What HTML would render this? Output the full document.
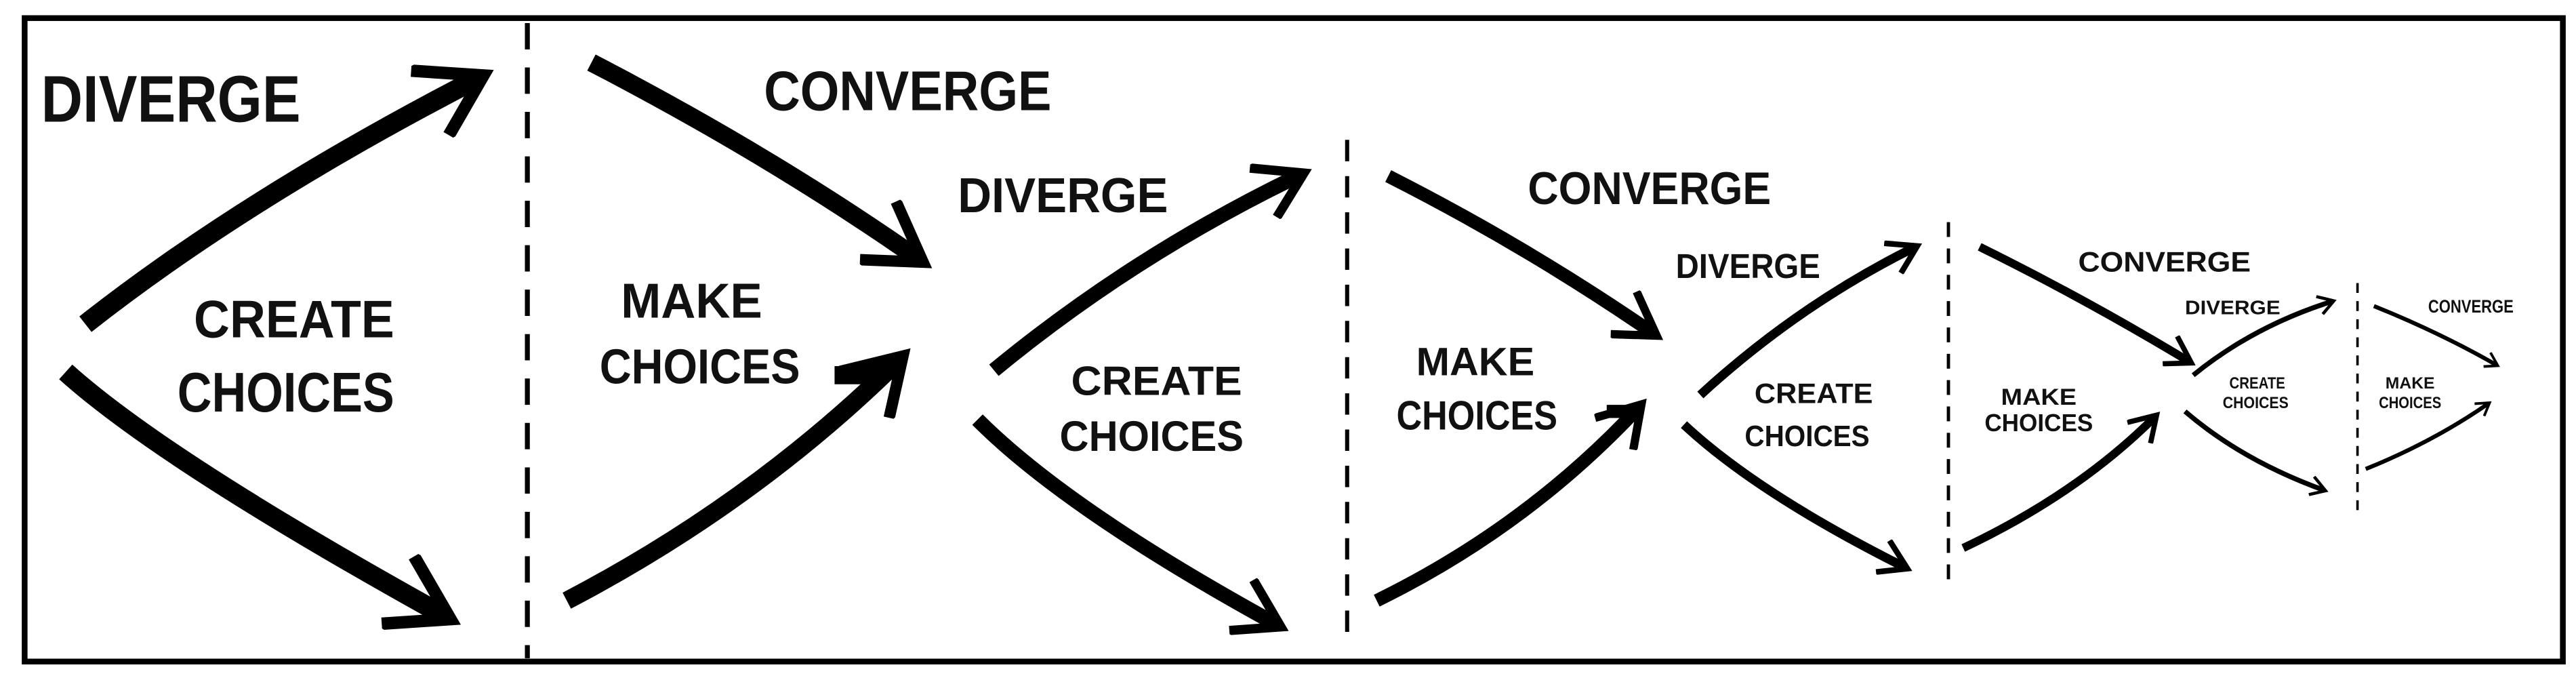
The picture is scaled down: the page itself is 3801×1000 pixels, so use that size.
<!DOCTYPE html>
<html><head><meta charset="utf-8"><style>
html,body{margin:0;padding:0;background:#fff;}
svg{display:block;}
text{font-family:"Liberation Sans",sans-serif;font-weight:bold;fill:#111;}
</style></head><body>
<svg width="3801" height="1000" viewBox="0 0 1568 412" preserveAspectRatio="none">
<defs>
<marker id="a" viewBox="0 0 10 10" refX="8" refY="5" markerWidth="4.2" markerHeight="4.2" orient="auto" markerUnits="strokeWidth">
<path d="M1,0.5 L8.5,5 L1.5,9.5" fill="none" stroke="#000" stroke-width="1.5" stroke-linejoin="miter"/>
</marker>
</defs>
<rect x="15" y="11" width="1545" height="391" fill="#fff" stroke="#000" stroke-width="3.5"/>
<g fill="none" stroke="#000" stroke-linecap="butt">
<path d="M52,197 Q150,120 292,47" stroke-width="12" marker-end="url(#a)"/>
<path d="M40,226 Q100,280 272,375" stroke-width="12" marker-end="url(#a)"/>
<line x1="321" y1="14" x2="321" y2="400" stroke-width="3" stroke-dasharray="16,11"/>
<path d="M360,38 Q470,95 560,158" stroke-width="11" marker-end="url(#a)"/>
<path d="M345,365 Q460,305 548,218" stroke-width="11" marker-end="url(#a)"/>
<line x1="508" y1="228" x2="536" y2="228" stroke-width="11"/>
<path d="M605,225 Q690,155 792,106" stroke-width="9" marker-end="url(#a)"/>
<path d="M595,255 Q650,310 778,380" stroke-width="9" marker-end="url(#a)"/>
<line x1="820" y1="85" x2="820" y2="388" stroke-width="2.5" stroke-dasharray="13,9"/>
<path d="M845,107 Q930,150 1007,203" stroke-width="8" marker-end="url(#a)"/>
<path d="M838,365 Q930,320 998,247" stroke-width="8" marker-end="url(#a)"/>
<line x1="978" y1="250" x2="995" y2="250" stroke-width="8"/>
<path d="M1035,240 Q1095,185 1166,150" stroke-width="5.5" marker-end="url(#a)"/>
<path d="M1025,258 Q1070,300 1160,345" stroke-width="5.5" marker-end="url(#a)"/>
<line x1="1186" y1="135" x2="1186" y2="356" stroke-width="2" stroke-dasharray="9,7"/>
<path d="M1205,150 Q1270,182 1333,220" stroke-width="5" marker-end="url(#a)"/>
<path d="M1195,333 Q1265,300 1312,253" stroke-width="5" marker-end="url(#a)"/>
<path d="M1335,228 Q1372,198 1420,183" stroke-width="3" marker-end="url(#a)"/>
<path d="M1330,250 Q1365,280 1415,298" stroke-width="3" marker-end="url(#a)"/>
<line x1="1435" y1="172" x2="1435" y2="310" stroke-width="1.5" stroke-dasharray="6,5"/>
<path d="M1445,186 Q1485,202 1520,222" stroke-width="2.5" marker-end="url(#a)"/>
<path d="M1440,285 Q1482,268 1515,245" stroke-width="2.5" marker-end="url(#a)"/>
</g>
<text x="25" y="74" font-size="40" textLength="158" lengthAdjust="spacingAndGlyphs">DIVERGE</text>
<text x="118" y="205" font-size="32" textLength="122" lengthAdjust="spacingAndGlyphs">CREATE</text>
<text x="108" y="250" font-size="34" textLength="132" lengthAdjust="spacingAndGlyphs">CHOICES</text>
<text x="465" y="67" font-size="34" textLength="175" lengthAdjust="spacingAndGlyphs">CONVERGE</text>
<text x="378" y="193" font-size="30" textLength="86" lengthAdjust="spacingAndGlyphs">MAKE</text>
<text x="365" y="233" font-size="30" textLength="122" lengthAdjust="spacingAndGlyphs">CHOICES</text>
<text x="583" y="129" font-size="30" textLength="128" lengthAdjust="spacingAndGlyphs">DIVERGE</text>
<text x="652" y="240" font-size="25" textLength="104" lengthAdjust="spacingAndGlyphs">CREATE</text>
<text x="645" y="274" font-size="26" textLength="112" lengthAdjust="spacingAndGlyphs">CHOICES</text>
<text x="930" y="124" font-size="28" textLength="148" lengthAdjust="spacingAndGlyphs">CONVERGE</text>
<text x="862" y="228" font-size="24" textLength="72" lengthAdjust="spacingAndGlyphs">MAKE</text>
<text x="850" y="261" font-size="25" textLength="98" lengthAdjust="spacingAndGlyphs">CHOICES</text>
<text x="1020" y="169" font-size="21" textLength="88" lengthAdjust="spacingAndGlyphs">DIVERGE</text>
<text x="1068" y="245" font-size="17" textLength="72" lengthAdjust="spacingAndGlyphs">CREATE</text>
<text x="1062" y="271" font-size="18" textLength="76" lengthAdjust="spacingAndGlyphs">CHOICES</text>
<text x="1265" y="165" font-size="17" textLength="105" lengthAdjust="spacingAndGlyphs">CONVERGE</text>
<text x="1218" y="246" font-size="14" textLength="46" lengthAdjust="spacingAndGlyphs">MAKE</text>
<text x="1208" y="262" font-size="15" textLength="66" lengthAdjust="spacingAndGlyphs">CHOICES</text>
<text x="1330" y="191" font-size="12" textLength="58" lengthAdjust="spacingAndGlyphs">DIVERGE</text>
<text x="1357" y="236" font-size="10" textLength="34" lengthAdjust="spacingAndGlyphs">CREATE</text>
<text x="1353" y="248" font-size="10" textLength="40" lengthAdjust="spacingAndGlyphs">CHOICES</text>
<text x="1478" y="190" font-size="11" textLength="52" lengthAdjust="spacingAndGlyphs">CONVERGE</text>
<text x="1452" y="236" font-size="10" textLength="30" lengthAdjust="spacingAndGlyphs">MAKE</text>
<text x="1448" y="248" font-size="10" textLength="38" lengthAdjust="spacingAndGlyphs">CHOICES</text>
</svg>
</body></html>
